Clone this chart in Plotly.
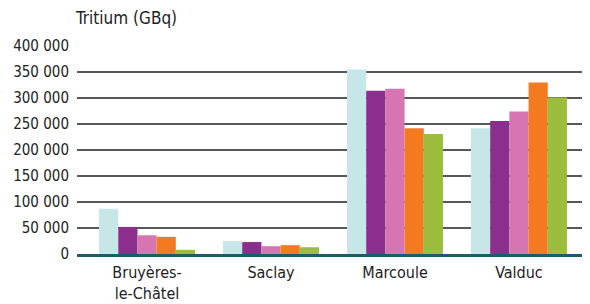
import plotly.graph_objects as go

categories = ["Bruyères-<br>le-Châtel", "Saclay", "Marcoule", "Valduc"]
series_names = ["S1", "S2", "S3", "S4", "S5"]
values = [
    [87000, 25000, 355000, 242000],
    [52000, 23000, 314000, 256000],
    [36000, 15000, 318000, 274000],
    [33000, 17000, 242000, 330000],
    [8000, 13000, 231000, 301000],
]
colors = ["#c6e6e8", "#8b2e8c", "#d675b1", "#f47a20", "#9cbd3b"]
tick_vals = [0, 50000, 100000, 150000, 200000, 250000, 300000, 350000, 400000]
tick_text = ["0", "50 000", "100 000", "150 000", "200 000", "250 000", "300 000", "350 000", "400 000"]

font_fam = "DejaVu Sans Condensed, sans-serif"

fig = go.Figure()
for name, vals, col in zip(series_names, values, colors):
    fig.add_trace(go.Bar(x=list(range(len(categories))), y=vals, name=name,
                         marker=dict(color=col, line=dict(width=0))))

# page body has an 8px margin, so the figure is sized 582x296
fig.update_layout(
    width=582, height=296,
    margin=dict(l=69, r=0, t=38, b=50),
    paper_bgcolor="white", plot_bgcolor="white",
    barmode="group", bargap=0.226, bargroupgap=0,
    showlegend=False,
    font=dict(family=font_fam, size=14, color="#222222"),
    xaxis=dict(range=[-0.565, 3.573], tickvals=list(range(len(categories))),
               ticktext=categories, showgrid=False, showline=True,
               linecolor="#1e5d68", linewidth=3, ticks="", zeroline=False,
               automargin=False, ticklabelstandoff=2,
               tickfont=dict(size=16, color="#222222")),
    yaxis=dict(range=[0, 400000], tickvals=tick_vals, ticktext=tick_text,
               showgrid=True, gridcolor="#585858", gridwidth=1.8,
               zeroline=False, showline=False, ticks="", automargin=False,
               ticklabelstandoff=7,
               tickfont=dict(size=15, color="#222222")),
)
fig.add_annotation(text="Tritium (GBq)", xref="paper", yref="paper", x=-0.008, y=1.0,
                   yshift=28, xanchor="left", yanchor="middle", showarrow=False,
                   font=dict(size=17, color="#222222", family=font_fam))

fig.write_html("out.html")
